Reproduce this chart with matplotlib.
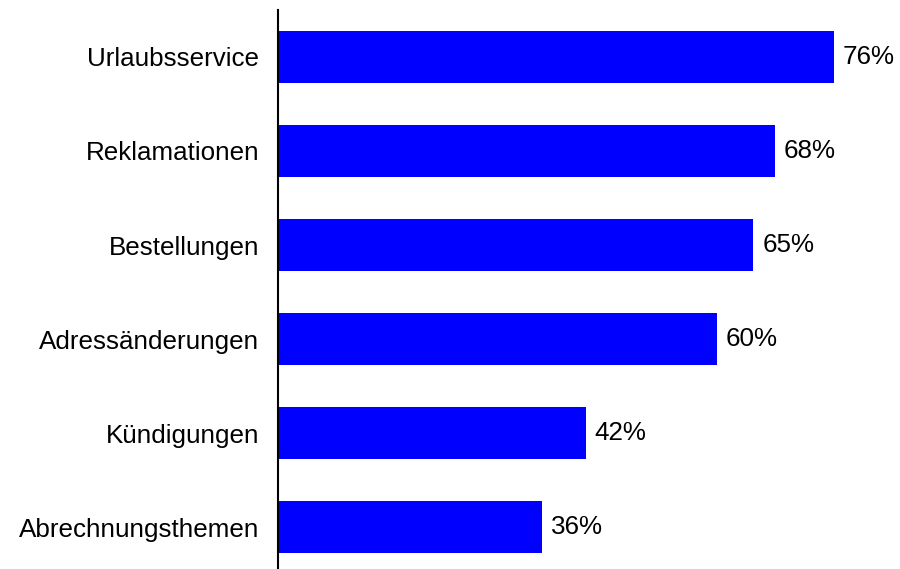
import matplotlib
matplotlib.use("Agg")
import matplotlib.pyplot as plt

categories = ["Urlaubsservice", "Reklamationen", "Bestellungen",
              "Adressänderungen", "Kündigungen", "Abrechnungsthemen"]
values = [76, 68, 65, 60, 42, 36]
value_labels = ["76%", "68%", "65%", "60%", "42%", "36%"]

plt.rcParams["font.family"] = ["Liberation Sans", "DejaVu Sans"]

W, H = 900, 569
fig = plt.figure(figsize=(W / 100, H / 100), dpi=100)
# axis area runs from y=10 px down slightly past the bottom edge
ax = fig.add_axes([277.5 / W, -5 / H, (W - 277.5) / W, 564 / H])

y = list(range(len(categories)))
ax.barh(y, values, height=0.555, color="#0000FF", left=0.2)
ax.set_ylim(len(categories) - 0.5, -0.5)
ax.set_xlim(0, (W - 277.5) / 7.3)

for yi, v, lab in zip(y, values, value_labels):
    ax.text(v + 0.2 + 1.2, yi, lab, va="center", ha="left", fontsize=18.7, color="black")

ax.set_yticks(y)
ax.set_yticklabels(categories, fontsize=18.7)
ax.tick_params(axis="y", length=0, pad=13)
ax.set_xticks([])
for s in ["top", "right", "bottom"]:
    ax.spines[s].set_visible(False)
ax.spines["left"].set_linewidth(1.5)
ax.spines["left"].set_color("black")

fig.savefig("out.png", dpi=100)
